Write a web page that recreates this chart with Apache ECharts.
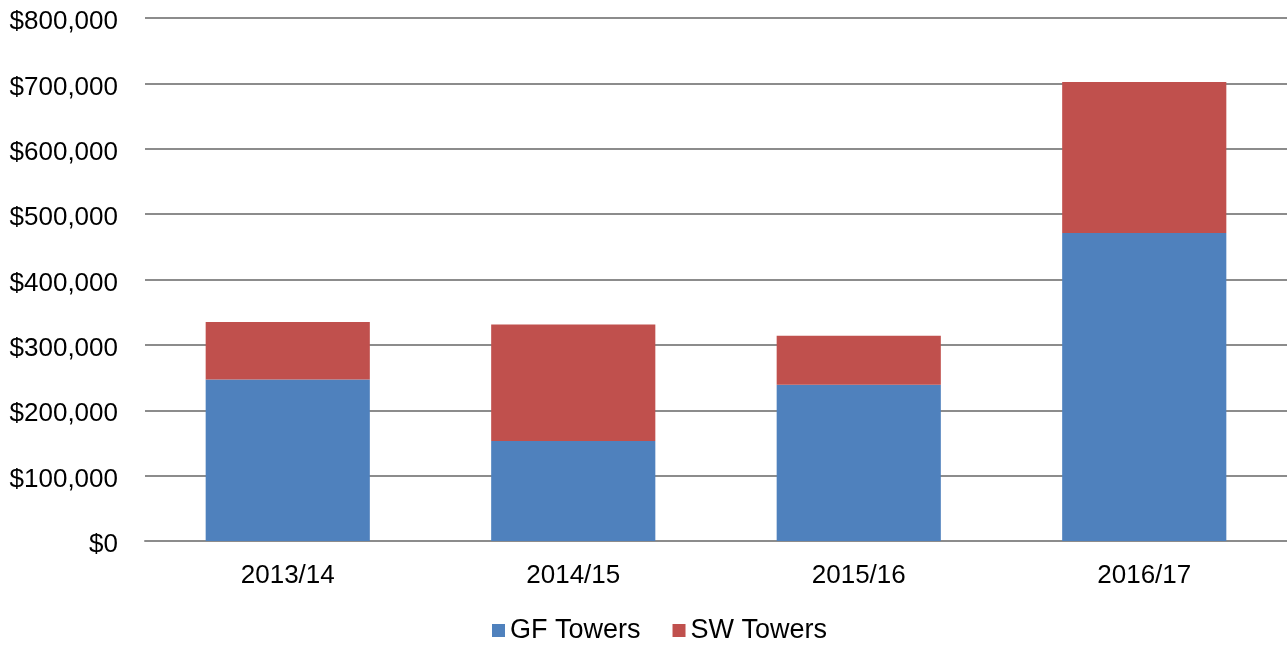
<!DOCTYPE html>
<html>
<head>
<meta charset="utf-8">
<script src="https://cdn.jsdelivr.net/npm/echarts@6/dist/echarts.min.js"></script>
<style>
html,body{margin:0;padding:0;background:#fff;}
#c{width:1287px;height:645px;}
</style>
</head>
<body>
<div id="c"></div>
<script>
const categories = ['2013/14', '2014/15', '2015/16', '2016/17'];
const gfTowers = [247000, 153000, 239000, 471000];
const swTowers = [88000, 178000, 75000, 231000];
const seriesNames = ['GF Towers', 'SW Towers'];

const chart = echarts.init(document.getElementById('c'));
const font = '"Liberation Sans", Arial, sans-serif';
chart.setOption({
  animation: false,
  textStyle: { fontFamily: font },
  grid: { left: 145, right: 0, top: 18, bottom: 104, containLabel: false },
  legend: {
    data: seriesNames,
    left: 492,
    top: 617,
    padding: 0,
    itemWidth: 13,
    itemHeight: 13,
    itemGap: 32,
    icon: 'rect',
    textStyle: { fontSize: 27, color: '#000', fontFamily: font }
  },
  xAxis: {
    type: 'category',
    data: categories,
    axisLine: { show: true, lineStyle: { color: '#8c8c8c', width: 2 } },
    axisTick: { show: false },
    axisLabel: { fontSize: 26, color: '#000', margin: 22, fontFamily: font }
  },
  yAxis: {
    type: 'value',
    min: 0,
    max: 800000,
    interval: 100000,
    axisLine: { show: false },
    axisTick: { show: false },
    axisLabel: {
      fontSize: 26, color: '#000', margin: 27, fontFamily: font,
      formatter: v => '{a|$' + v.toLocaleString('en-US') + '}',
      rich: { a: { fontSize: 26, color: '#000', fontFamily: font, padding: [8, 0, 0, 0] } }
    },
    splitLine: { lineStyle: { color: '#8c8c8c', width: 2 } }
  },
  series: [
    {
      name: seriesNames[0], type: 'bar', stack: 't', data: gfTowers,
      barWidth: '57.5%', itemStyle: { color: '#4F81BD' }
    },
    {
      name: seriesNames[1], type: 'bar', stack: 't', data: swTowers,
      barWidth: '57.5%', itemStyle: { color: '#C0504D' }
    }
  ]
});
</script>
</body>
</html>
